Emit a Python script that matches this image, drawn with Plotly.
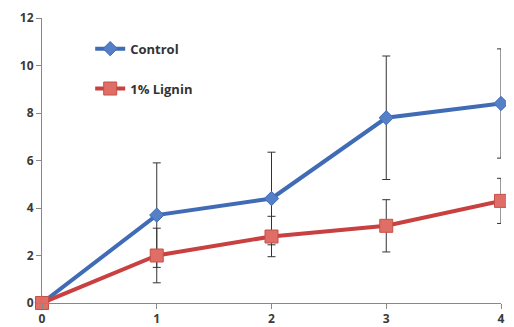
import plotly.graph_objects as go

x = [0, 1, 2, 3, 4]
control = [0, 3.7, 4.4, 7.8, 8.4]
control_err = [0, 2.2, 1.95, 2.6, 2.3]
lignin = [0, 2.0, 2.8, 3.25, 4.3]
lignin_err = [0, 1.15, 0.85, 1.1, 0.95]

fig = go.Figure()
fig.add_trace(go.Scatter(
    x=x, y=control, name="Control", mode="lines+markers", legendgroup="a",
    line=dict(color="#3F6CB5", width=4),
    marker=dict(symbol="diamond", size=11, color="#5580C8", line=dict(color="#3F6CB5", width=1)),
    error_y=dict(type="data", array=control_err, color="#333333", thickness=1, width=4),
    cliponaxis=False,
))
fig.add_trace(go.Scatter(
    x=x, y=lignin, name="1% Lignin", mode="lines+markers", legendgroup="b",
    line=dict(color="#C8403F", width=4),
    marker=dict(symbol="square", size=13, color="#DE6E66", line=dict(color="#C55048", width=1)),
    error_y=dict(type="data", array=lignin_err, color="#333333", thickness=1, width=4),
    cliponaxis=False,
))

tf = dict(family="Open Sans", size=12, color="#3a3a3a", weight="bold")
# page body has an 8px default margin, so the figure is sized to fit the window
fig.update_layout(
    width=506, height=319,
    margin=dict(l=34, r=13, t=10, b=24, autoexpand=False),
    paper_bgcolor="white", plot_bgcolor="white",
    font=dict(family="Open Sans", size=11, color="#404040"),
    showlegend=True,
    legend=dict(x=0.105, y=0.945, xanchor="left", yanchor="top",
                bgcolor="rgba(0,0,0,0)",
                font=dict(family="Open Sans", size=13, color="#333333", weight="bold"),
                itemwidth=30, tracegroupgap=20),
)
fig.update_xaxes(range=[0, 4], tickvals=x, showgrid=False, zeroline=False, automargin=False,
                 showline=True, linecolor="#888888", linewidth=1,
                 ticks="outside", ticklen=5, tickcolor="#888888", tickfont=tf)
fig.update_yaxes(range=[0, 12], tickvals=[0, 2, 4, 6, 8, 10, 12], showgrid=False, zeroline=False,
                 automargin=False,
                 showline=True, linecolor="#888888", linewidth=1,
                 ticks="outside", ticklen=5, tickcolor="#888888", tickfont=tf)

fig.write_html("out.html")
